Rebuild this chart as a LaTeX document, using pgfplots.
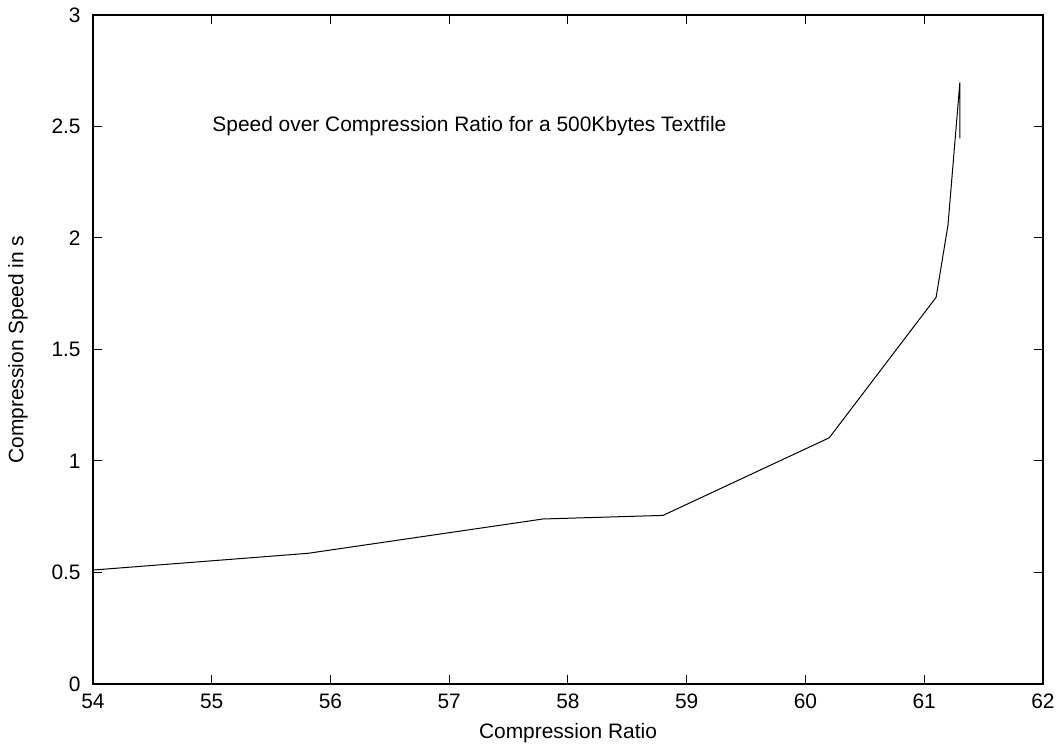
\documentclass[border=0pt]{standalone}
\usepackage{pgfplots}
\pgfplotsset{compat=1.18}
\usepackage{fontspec}
\setmainfont{Liberation Sans}
\begin{document}
\fontsize{10.5}{12.5}\selectfont
\begin{tikzpicture}
\useasboundingbox (-46.5bp,-31.5bp) rectangle (482bp,342bp);
\begin{axis}[
  scale only axis,
  width=475bp, height=334.5bp,
  xmin=54, xmax=62, ymin=0, ymax=3,
  xtick={54,55,...,62},
  ytick={0,0.5,1,1.5,2,2.5,3},
  tick align=inside,
  major tick length=4.5bp,
  axis line style={line width=0.6bp},
  tick style={line width=0.5bp, black},
  /pgf/number format/assume math mode=true,
  yticklabel style={/pgf/number format/fixed, xshift=-2.5bp},
  xticklabel style={yshift=-1.5bp},
  ticklabel style={font=\fontsize{10.5}{12.5}\selectfont},
  label style={font=\fontsize{10.5}{12.5}\selectfont},
  xlabel={Compression Ratio},
  ylabel={Compression Speed in s},
  xlabel style={at={([yshift=-24.5bp]axis description cs:0.5,0)}, anchor=center},
  ylabel style={at={([xshift=-37.5bp]axis description cs:0,0.5)}, anchor=center},
]
\addplot[black, line width=0.5bp] coordinates {
(54.00,0.511)
(55.81,0.586)
(57.79,0.740)
(58.80,0.756)
(60.20,1.104)
(61.10,1.734)
(61.20,2.058)
(61.30,2.698)
(61.30,2.447)
};
\node[font=\fontsize{10.5}{12.5}\selectfont] at (axis cs:57.17,2.5) {Speed over Compression Ratio for a 500Kbytes Textfile};
\end{axis}
\end{tikzpicture}
\end{document}
